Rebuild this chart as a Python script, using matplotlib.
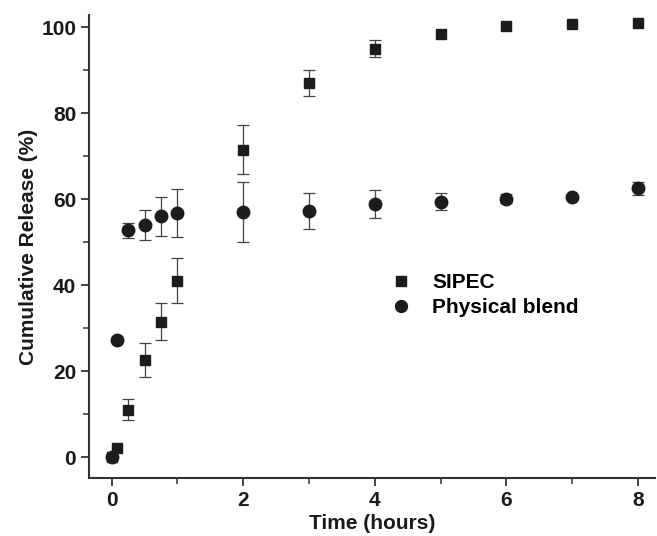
import matplotlib.pyplot as plt
from matplotlib.ticker import MultipleLocator

plt.rcParams['font.family'] = ['Liberation Sans', 'DejaVu Sans']
plt.rcParams['font.weight'] = 'bold'

# sampling times (hours)
time_h = [0, 0.083, 0.25, 0.5, 0.75, 1, 2, 3, 4, 5, 6, 7, 8]

# SIPEC release (%), mean and SD
sipec = [0, 2.0, 11.0, 22.5, 31.5, 41.0, 71.5, 87.0, 95.0, 98.3, 100.2, 100.7, 100.9]
sipec_sd = [0, 0, 2.5, 4.0, 4.3, 5.2, 5.7, 3.0, 2.0, 0, 0, 0, 0]

# physical blend release (%), mean and SD
blend = [0, 27.2, 52.7, 54.0, 56.0, 56.7, 57.0, 57.2, 58.8, 59.4, 60.1, 60.5, 62.5]
blend_sd = [0, 0, 1.7, 3.5, 4.5, 5.6, 6.9, 4.1, 3.3, 2.0, 1.0, 0, 1.5]

fig = plt.figure(figsize=(6.57, 5.36), dpi=100)
ax = fig.add_axes([0.135, 0.108, 0.862, 0.864])

ink = '#1c1c1c'


def draw_series(y, sd, marker, ms, label):
    # error bars only where an SD was reported
    pts = [(t, v, e) for t, v, e in zip(time_h, y, sd) if e > 0]
    ax.errorbar([p[0] for p in pts], [p[1] for p in pts],
                yerr=[p[2] for p in pts], fmt='none', ecolor='#444444',
                elinewidth=0.9, capsize=4, capthick=0.9, zorder=2)
    ax.plot(time_h, y, linestyle='none', marker=marker, ms=ms, color=ink,
            label=label, zorder=3)


draw_series(sipec, sipec_sd, 's', 7.5, 'SIPEC')
draw_series(blend, blend_sd, 'o', 9, 'Physical blend')

ax.set_xlim(-0.35, 8.26)
ax.set_ylim(-4.9, 102.8)
ax.xaxis.set_major_locator(MultipleLocator(2))
ax.xaxis.set_minor_locator(MultipleLocator(1))
ax.yaxis.set_major_locator(MultipleLocator(20))
ax.yaxis.set_minor_locator(MultipleLocator(10))

for s in ['top', 'right']:
    ax.spines[s].set_visible(False)
for s in ['left', 'bottom']:
    ax.spines[s].set_linewidth(1.5)
    ax.spines[s].set_color('#333333')

ax.tick_params(which='major', direction='out', length=6, width=1.3,
               colors='#333333', labelsize=15, labelcolor='#1a1a1a', pad=3)
ax.tick_params(which='minor', direction='out', length=4, width=1.1,
               colors='#333333')

ax.set_xlabel('Time (hours)', fontsize=15, fontweight='bold', color='#1a1a1a',
              labelpad=3)
ax.set_ylabel('Cumulative Release (%)', fontsize=15, fontweight='bold',
              color='#1a1a1a', labelpad=2)

ax.legend(loc='center left', bbox_to_anchor=(0.5, 0.395), frameon=False,
          handletextpad=1.0, labelspacing=0.3, handlelength=1.0,
          markerscale=0.95, prop={'weight': 'bold', 'size': 15})

fig.savefig('out.png', dpi=100)
